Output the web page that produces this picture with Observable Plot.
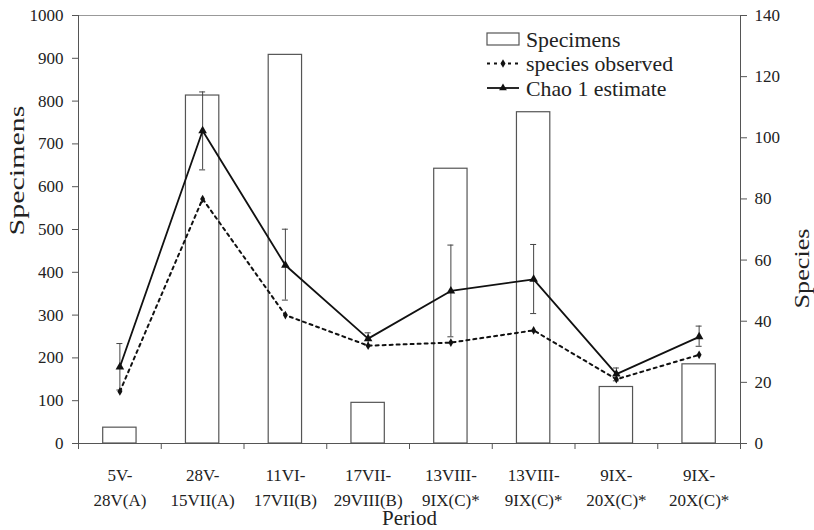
<!DOCTYPE html>
<html>
<head>
<meta charset="utf-8">
<script src="https://cdn.jsdelivr.net/npm/d3@7"></script>
<script src="https://cdn.jsdelivr.net/npm/@observablehq/plot@0.6"></script>
<style>
  html, body { margin: 0; padding: 0; background: white; }
</style>
</head>
<body>
<div id="chart"></div>
<script>
const periodsTop = ["5V-", "28V-", "11VI-", "17VII-", "13VIII-", "13VIII-", "9IX-", "9IX-"];
const periodsBottom = ["28V(A)", "15VII(A)", "17VII(B)", "29VIII(B)", "9IX(C)*", "9IX(C)*", "20X(C)*", "20X(C)*"];
const specimens = [37, 813, 908, 95, 642, 774, 132, 185];
const speciesObserved = [17, 80, 42, 32, 33, 37, 21, 29];
const chao1 = [25, 102.3, 58.3, 34.3, 49.9, 53.7, 22.7, 34.9];
const chao1Low = [17.5, 89.5, 46.9, 32.2, 34.9, 42.5, 20.5, 31.8];
const chao1High = [32.7, 115, 70.1, 36.2, 64.9, 65.1, 24.7, 38.4];
const leftTicks = [0, 100, 200, 300, 400, 500, 600, 700, 800, 900, 1000];
const rightTicks = [0, 20, 40, 60, 80, 100, 120, 140];

const k = 1000 / 140; // species -> specimens scale factor (right axis 0-140 maps to left 0-1000)
const rows = periodsTop.map((p, i) => ({
  i, top: p, bottom: periodsBottom[i],
  specimens: specimens[i],
  obs: speciesObserved[i] * k,
  chao: chao1[i] * k,
  lo: chao1Low[i] * k,
  hi: chao1High[i] * k
}));
const cx = d => d.i + 0.5;
const axisColor = "#555";
const FONT = "Liberation Serif";

const chart = Plot.plot({
  width: 814,
  height: 530,
  marginLeft: 78,
  marginRight: 74,
  marginTop: 15,
  marginBottom: 87,
  x: {domain: [0, 8], axis: null},
  y: {domain: [0, 1000], axis: null},
  style: {fontFamily: FONT, background: "white", color: "#222"},
  marks: [
    Plot.ruleY([1000], {stroke: "#999", strokeWidth: 1}),
    Plot.rectY(rows, {x1: d => d.i, x2: d => d.i + 1, y1: 0, y2: "specimens", insetLeft: 24.7, insetRight: 24.7,
      fill: "white", stroke: "#555", strokeWidth: 1.2}),
    // error bars
    Plot.ruleX(rows, {x: cx, y1: "lo", y2: "hi", stroke: "#444", strokeWidth: 1}),
    Plot.ruleY(rows, {x1: cx, x2: cx, y: "hi", insetLeft: -3, insetRight: -3, stroke: "#444", strokeWidth: 1}),
    Plot.ruleY(rows, {x1: cx, x2: cx, y: "lo", insetLeft: -3, insetRight: -3, stroke: "#444", strokeWidth: 1}),
    // species observed
    Plot.line(rows, {x: cx, y: "obs", stroke: "#111", strokeWidth: 2, strokeDasharray: "3,4"}),
    Plot.dot(rows, {x: cx, y: "obs", symbol: "diamond", r: 2.6, fill: "#111", stroke: "none"}),
    // chao 1
    Plot.line(rows, {x: cx, y: "chao", stroke: "#111", strokeWidth: 1.8}),
    Plot.dot(rows, {x: cx, y: "chao", symbol: "triangle", r: 3.2, fill: "#111", stroke: "none"}),
    // axes lines
    Plot.ruleX([0], {stroke: axisColor}),
    Plot.ruleX([8], {stroke: axisColor}),
    Plot.ruleY([0], {stroke: axisColor}),
    Plot.axisY({anchor: "left", ticks: leftTicks, tickFormat: d => String(d), tickSize: 6, tickPadding: 9, fontSize: 17, label: null, stroke: axisColor, fill: "#222"}),
    Plot.axisY({anchor: "right", ticks: rightTicks.map(v => v * k), tickFormat: d => String(Math.round(d / k)), tickSize: 6, tickPadding: 8, fontSize: 17, label: null, stroke: axisColor, fill: "#222"}),
    Plot.axisX({anchor: "bottom", ticks: d3.range(9), tickFormat: () => "", tickSize: 6, label: null, stroke: axisColor}),
    Plot.text(rows, {x: cx, frameAnchor: "bottom", text: d => d.top + "\n" + d.bottom, lineAnchor: "top", dy: 19, lineHeight: 1.5, fontSize: 17, fill: "#222"}),
    Plot.text(["Period"], {x: 4, frameAnchor: "bottom", text: d => d, lineAnchor: "middle", dy: 75, fontSize: 21, fill: "#222"}),
    Plot.text(["Specimens"], {frameAnchor: "left", text: d => d, rotate: -90, dx: -62, dy: 6, fontSize: 22, fill: "#222", lineAnchor: "middle"}),
    Plot.text(["Species"], {frameAnchor: "right", text: d => d, rotate: -90, dx: 61, dy: -1, fontSize: 22, fill: "#222", lineAnchor: "middle"})
  ]
});

document.getElementById("chart").appendChild(chart);

// stretch the rotated axis titles as in the reference
const svg = d3.select(chart);
svg.selectAll("text").each(function() {
  const t = d3.select(this);
  const s = t.text();
  if (s === "Specimens") t.attr("textLength", 130).attr("lengthAdjust", "spacingAndGlyphs");
  if (s === "Species") t.attr("textLength", 80).attr("lengthAdjust", "spacingAndGlyphs");
});

// legend
const lg = svg.append("g").attr("font-family", FONT).attr("font-size", 21.8).attr("fill", "#222").attr("text-anchor", "start");
const lx0 = 487, lx1 = 519, tx = 526;
lg.append("rect").attr("x", lx0).attr("y", 33).attr("width", lx1 - lx0).attr("height", 12).attr("fill", "white").attr("stroke", "#555").attr("stroke-width", 1.2);
lg.append("text").attr("x", tx).attr("y", 39).attr("dy", "0.35em").text("Specimens");
lg.append("line").attr("x1", lx0).attr("x2", lx1).attr("y1", 63.5).attr("y2", 63.5).attr("stroke", "#111").attr("stroke-width", 2).attr("stroke-dasharray", "3,4");
lg.append("path").attr("d", d3.symbol(d3.symbolDiamond, 22)()).attr("transform", `translate(${(lx0 + lx1) / 2},63.5)`).attr("fill", "#111");
lg.append("text").attr("x", tx).attr("y", 63.5).attr("dy", "0.35em").text("species observed");
lg.append("line").attr("x1", lx0).attr("x2", lx1).attr("y1", 88).attr("y2", 88).attr("stroke", "#111").attr("stroke-width", 1.8);
lg.append("path").attr("d", d3.symbol(d3.symbolTriangle, 26)()).attr("transform", `translate(${(lx0 + lx1) / 2},88)`).attr("fill", "#111");
lg.append("text").attr("x", tx).attr("y", 88).attr("dy", "0.35em").text("Chao 1 estimate");
</script>
</body>
</html>
